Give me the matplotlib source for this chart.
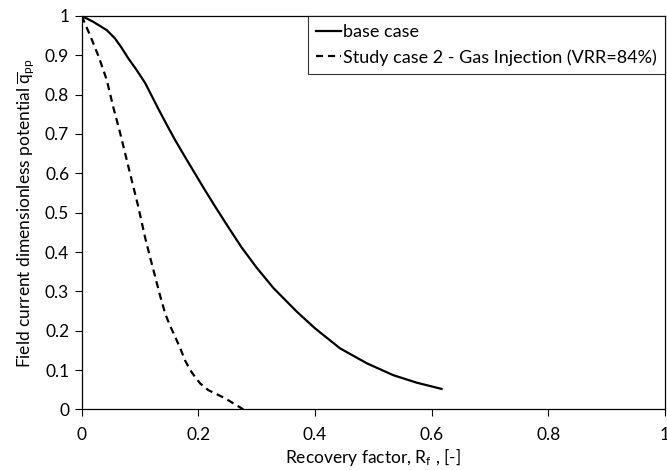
import matplotlib
matplotlib.use("Agg")
import matplotlib.pyplot as plt
from matplotlib.ticker import FuncFormatter

plt.rcParams['font.family'] = ['Lato', 'DejaVu Sans']
plt.rcParams['mathtext.fontset'] = 'custom'
plt.rcParams['mathtext.rm'] = 'Lato'
plt.rcParams['mathtext.it'] = 'Lato'

# base case
rf_base = [0.0, 0.020, 0.043, 0.057, 0.068, 0.080, 0.094, 0.109, 0.120, 0.131,
           0.146, 0.160, 0.177, 0.194, 0.211, 0.229, 0.251, 0.274, 0.300, 0.329,
           0.369, 0.400, 0.443, 0.489, 0.534, 0.574, 0.617]
q_base = [1.0, 0.985, 0.964, 0.943, 0.920, 0.892, 0.863, 0.829, 0.797, 0.765,
          0.723, 0.685, 0.642, 0.600, 0.558, 0.515, 0.464, 0.412, 0.360, 0.308,
          0.248, 0.206, 0.155, 0.117, 0.087, 0.068, 0.052]

# study case 2 - gas injection
rf_gas = [0.0, 0.014, 0.029, 0.043, 0.054, 0.066, 0.080, 0.097, 0.109, 0.117,
          0.126, 0.134, 0.143, 0.151, 0.160, 0.169, 0.177, 0.186, 0.194, 0.203,
          0.217, 0.246, 0.277]
q_gas = [1.0, 0.952, 0.897, 0.837, 0.769, 0.702, 0.617, 0.515, 0.435, 0.388,
         0.337, 0.291, 0.244, 0.214, 0.185, 0.155, 0.125, 0.100, 0.083, 0.066,
         0.049, 0.028, 0.0]

fig = plt.figure(figsize=(6.67, 4.70), dpi=100)
ax = fig.add_axes([0.1225, 0.129, 0.8745, 0.837])

ax.plot(rf_base, q_base, color='black', lw=1.6, label='base case')
ax.plot(rf_gas, q_gas, color='black', lw=1.6, ls=(0, (3.2, 2.2)),
        label='Study case 2 - Gas Injection (VRR=84%)')

ax.set_xlim(0, 1)
ax.set_ylim(0, 1)
ax.set_xticks([0, 0.2, 0.4, 0.6, 0.8, 1.0])
ax.set_yticks([i / 10 for i in range(11)])
fmt = FuncFormatter(lambda v, p: '%g' % round(v, 2))
ax.xaxis.set_major_formatter(fmt)
ax.yaxis.set_major_formatter(fmt)
ax.tick_params(direction='out', length=5, width=0.8, labelsize=12.5, pad=4)
ax.tick_params(axis='x', pad=8)
for s in ax.spines.values():
    s.set_linewidth(0.9)

ax.set_xlabel('Recovery factor, R$_\\mathregular{f}$ , [-]', fontsize=12.5, labelpad=2)
ax.set_ylabel('Field current dimensionless potential $\\overline{\\mathregular{q}}_{\\mathregular{pp}}$',
              fontsize=12.5, labelpad=6)

leg = ax.legend(loc='upper right', bbox_to_anchor=(1.0, 1.0), fontsize=13,
                frameon=True, fancybox=False, edgecolor='black',
                handlelength=1.4, handletextpad=0.1, borderaxespad=0,
                borderpad=0.45, labelspacing=0.5)
leg.get_frame().set_linewidth(0.8)

fig.savefig('out.png', dpi=100)
